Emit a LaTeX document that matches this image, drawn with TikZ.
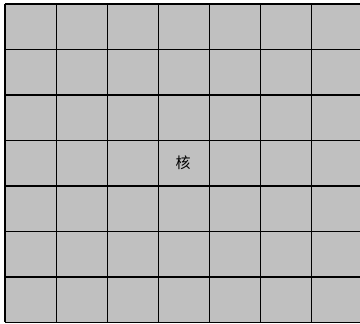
\documentclass[tikz,border=0pt]{standalone}
\usepackage{fontspec}
\newfontfamily\cjk{Noto Sans CJK SC}
\definecolor{cellgray}{RGB}{192,192,192}
\tikzset{gridline/.style={draw=black,line width=1.1pt},
  celltext/.style={font=\cjk\fontsize{15}{17}\selectfont,inner sep=0pt}}
\begin{document}
\begin{tikzpicture}[x=1pt,y=-1pt]
\useasboundingbox (0,0) rectangle (360,324);
\clip (0,0) rectangle (360,324);
\fill[cellgray] (5,4) rectangle (365,322.5);
\foreach \i in {0,...,7} {
  \draw[gridline] (5,{4+45.5*\i}) -- (365,{4+45.5*\i});
}
\foreach \j in {0,...,7} {
  \draw[gridline] ({5+51.07*\j},4) -- ({5+51.07*\j},322.5);
}
\node[celltext] (hub) at (183.2,162.5) {核};
\end{tikzpicture}
\end{document}
